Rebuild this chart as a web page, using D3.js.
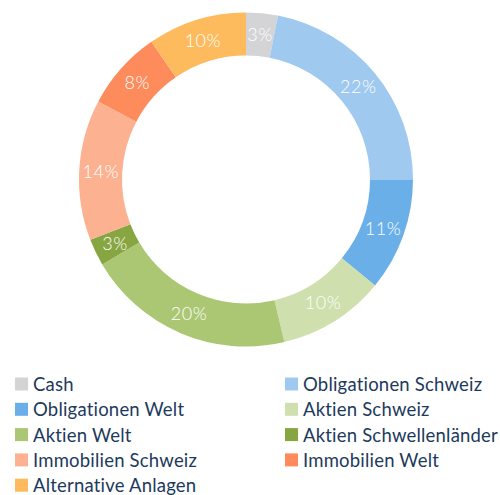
<!DOCTYPE html>
<html><head><meta charset="utf-8">
<script src="https://cdn.jsdelivr.net/npm/d3@7"></script>
<style>body{margin:0;background:#fff;} svg{display:block;font-family:Lato,"Open Sans",sans-serif;}</style>
</head><body>
<svg id="c" width="500" height="495"></svg>
<script>
const categories = ["Cash","Obligationen Schweiz","Obligationen Welt","Aktien Schweiz","Aktien Welt","Aktien Schwellenländer","Immobilien Schweiz","Immobilien Welt","Alternative Anlagen"];
const values = [3.06, 21.94, 10.94, 10.36, 20.19, 2.61, 13.61, 7.69, 9.58];
const labels = ["3%","22%","11%","10%","20%","3%","14%","8%","10%"];
const colors = ["#d4d4d6","#9fc9ee","#6aafe8","#cfdfad","#abc774","#87a541","#fcb191","#fd8b5b","#fdbb5e"];

const svg = d3.select("#c");
const cx = 246, cy = 179.5, rO = 167, rI = 124;
const color = d3.scaleOrdinal().domain(categories).range(colors);
const pie = d3.pie().sort(null).value(d => d.v);
const data = categories.map((c,i)=>({c, v:values[i], l:labels[i]}));
const arcs = pie(data);
const arc = d3.arc().innerRadius(rI).outerRadius(rO);
const g = svg.append("g").attr("transform",`translate(${cx},${cy})`);
g.selectAll("path").data(arcs).join("path").attr("d",arc).attr("fill",d=>color(d.data.c));
const lab = d3.arc().innerRadius((rI+rO)/2).outerRadius((rI+rO)/2);
g.selectAll("text").data(arcs).join("text")
  .attr("transform",d=>`translate(${lab.centroid(d)})`)
  .attr("text-anchor","middle").attr("dy","0.36em")
  .attr("fill","#fff").attr("font-size",18).attr("font-weight",300).attr("letter-spacing",0.5)
  .text(d=>d.data.l);

const leg = svg.append("g");
const colX = [15, 285], rowY = 384.5, rowH = 25.3;
const items = leg.selectAll("g").data(categories).join("g")
  .attr("transform",(d,i)=>`translate(${colX[i%2]},${rowY + Math.floor(i/2)*rowH})`);
items.append("rect").attr("x",0).attr("y",-7).attr("width",13).attr("height",13).attr("fill",d=>color(d));
items.append("text").attr("x",18).attr("y",0).attr("dy","0.35em").attr("fill","#1d3a5c")
  .attr("font-size",18.5).attr("letter-spacing",0.2).text(d=>d);
</script>
</body></html>
